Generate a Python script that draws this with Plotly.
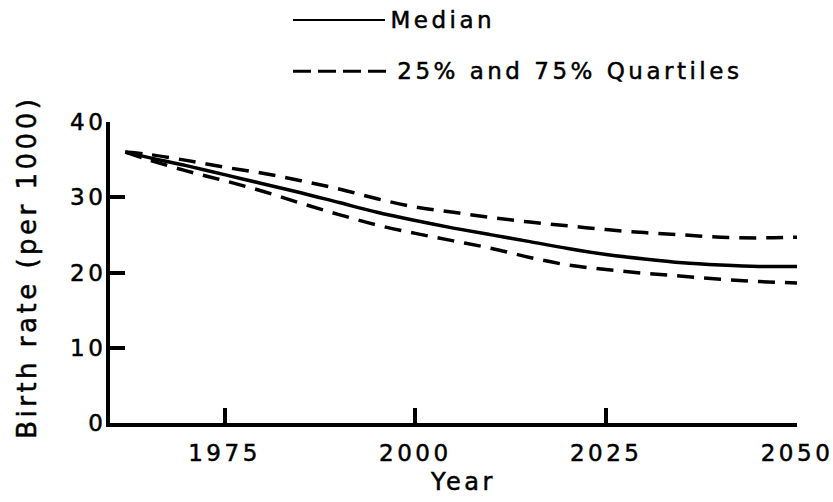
import plotly.graph_objects as go

years = [1962, 1965, 1970, 1975, 1980, 1985, 1990, 1995, 2000, 2005,
         2010, 2015, 2020, 2025, 2030, 2035, 2040, 2045, 2050]
median = [36.0, 35.3, 34.2, 33.0, 31.8, 30.6, 29.3, 28.0, 26.9, 25.9,
          25.0, 24.1, 23.2, 22.4, 21.8, 21.3, 21.0, 20.8, 20.8]
upper_quartile = [36.0, 35.7, 34.9, 34.0, 33.2, 32.2, 31.1, 29.8, 28.7, 28.0,
                  27.3, 26.7, 26.2, 25.7, 25.3, 25.0, 24.7, 24.6, 24.7]
lower_quartile = [36.0, 35.0, 33.5, 32.2, 30.8, 29.2, 27.7, 26.3, 25.2, 24.2,
                  23.2, 22.0, 21.0, 20.4, 19.9, 19.5, 19.1, 18.8, 18.6]

x_ticks = [1975, 2000, 2025, 2050]
y_ticks = [0, 10, 20, 30, 40]
x_title = "Year"
y_title = "Birth rate (per 1000)"
legend_median = "Median"
legend_quartiles = "25% and 75% Quartiles"

FONT = "DejaVu Sans"
DASH = "17px,10px"
TXT = dict(family=FONT, size=23, color="black")

fig = go.Figure()
fig.add_trace(go.Scatter(x=years, y=upper_quartile, mode="lines", name="75% Quartile",
                         line=dict(color="black", width=3.5, dash=DASH, shape="spline"),
                         showlegend=False))
fig.add_trace(go.Scatter(x=years, y=lower_quartile, mode="lines", name="25% Quartile",
                         line=dict(color="black", width=3.5, dash=DASH, shape="spline"),
                         showlegend=False))
fig.add_trace(go.Scatter(x=years, y=median, mode="lines", name="Median",
                         line=dict(color="black", width=3.5, shape="spline"),
                         showlegend=False))

# legend drawn as key lines + text above the plot
fig.add_shape(type="line", xref="paper", yref="paper",
              x0=0.2664, x1=0.4003, y0=1.339, y1=1.339,
              line=dict(color="black", width=2))
fig.add_shape(type="line", xref="paper", yref="paper",
              x0=0.2664, x1=0.4040, y0=1.169, y1=1.169,
              line=dict(color="black", width=3, dash="18px,7px"))
fig.add_annotation(xref="paper", yref="paper", x=0.4207, y=1.339,
                   xanchor="left", yanchor="middle", showarrow=False,
                   text=legend_median, font=TXT)
fig.add_annotation(xref="paper", yref="paper", x=0.468, y=1.169,
                   xanchor="left", yanchor="middle", showarrow=False,
                   text=legend_quartiles, font=TXT)
# axis titles
fig.add_annotation(xref="paper", yref="paper", x=-0.1208, y=0.518,
                   xanchor="center", yanchor="middle", showarrow=False, textangle=-90,
                   text=y_title, font=dict(family=FONT, size=26, color="black"))
fig.add_annotation(xref="paper", yref="paper", x=0.514, y=-0.196,
                   xanchor="center", yanchor="middle", showarrow=False,
                   text=x_title, font=dict(family=FONT, size=24, color="black"))

fig.update_layout(
    width=833, height=502,
    margin=dict(l=110, r=36, t=122, b=79),
    paper_bgcolor="white", plot_bgcolor="white",
    font=TXT,
    showlegend=False,
)
fig.update_xaxes(
    range=[1960, 2050], tickvals=x_ticks, ticks="inside", ticklen=15, tickwidth=4,
    tickcolor="black", showline=True, linewidth=4, linecolor="black",
    showgrid=False, zeroline=False, ticklabelstandoff=6,
    automargin=False,
)
fig.update_yaxes(
    range=[0, 40], tickvals=y_ticks, ticks="inside", ticklen=15, tickwidth=4,
    tickcolor="black", showline=True, linewidth=4, linecolor="black",
    showgrid=False, zeroline=False, ticklabelstandoff=-5,
    automargin=False,
)

post = """
var s = document.createElement('style');
s.textContent = 'svg text {letter-spacing: 3.5px; stroke: #000; stroke-width: 0.5px;}';
document.head.appendChild(s);
document.body.style.margin = '0';
document.body.style.overflow = 'hidden';
"""
fig.write_html("out.html", post_script=post, config={"displayModeBar": False})
